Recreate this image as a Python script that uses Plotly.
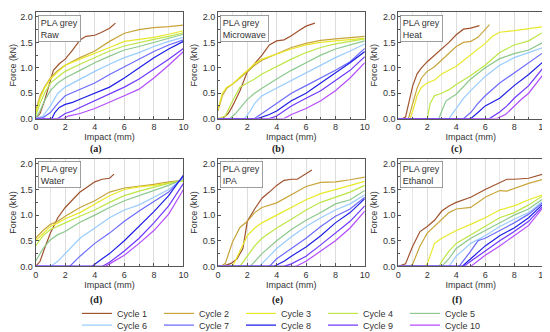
import plotly.graph_objects as go

cycle_names = [f"Cycle {i}" for i in range(1, 11)]
cycle_colors = ["#A0522D", "#C8A43A", "#E8E82A", "#BDE645", "#8CC88C",
                "#99CCFF", "#6B6BFF", "#1E1EE6", "#7038FF", "#B44DFF"]
panel_titles = ["Raw", "Microwave", "Heat", "Water", "IPA", "Ethanol"]
panel_labels = ["(a)", "(b)", "(c)", "(d)", "(e)", "(f)"]
x_ticks = [0, 2, 4, 6, 8, 10]
y_ticks = [0.0, 0.5, 1.0, 1.5, 2.0]

raw_x = [
    [0, 0.3, 0.6, 0.9, 1.2, 1.6, 2, 2.5, 3, 3.4, 4, 4.4, 5, 5.4],
    [0, 0.3, 0.6, 1, 1.5, 2, 3, 4, 5, 6, 7, 8, 9, 10],
    [0, 0.3, 0.6, 1, 1.5, 2, 3, 4, 5, 6, 7, 8, 9, 10],
    [0, 0.3, 0.6, 1, 1.5, 2, 3, 4, 5, 6, 7, 8, 9, 10],
    [0, 0.3, 0.6, 1, 1.5, 2, 3, 4, 5, 6, 7, 8, 9, 10],
    [0, 0.5, 1, 1.5, 2, 3, 4, 5, 6, 7, 8, 9, 10],
    [0, 0.5, 1, 1.5, 2, 3, 4, 5, 6, 7, 8, 9, 10],
    [0, 1.1, 1.3, 1.6, 2, 2.5, 3, 4, 5, 6, 7, 8, 9, 10],
    [0, 1.5, 2, 2.5, 3, 4, 5, 6, 7, 8, 9, 10],
    [0, 1.9, 2.2, 3, 4, 5, 6, 7, 8, 9, 10],
]
raw_y = [
    [0, 0.1, 0.35, 0.65, 0.95, 1.08, 1.17, 1.35, 1.55, 1.62, 1.64, 1.69, 1.78, 1.88],
    [0.15, 0.45, 0.62, 0.8, 0.95, 1.05, 1.2, 1.33, 1.52, 1.68, 1.75, 1.79, 1.81, 1.84],
    [0.1, 0.4, 0.6, 0.78, 0.92, 1.05, 1.17, 1.28, 1.4, 1.52, 1.56, 1.6, 1.66, 1.73],
    [0.05, 0.3, 0.5, 0.7, 0.82, 0.93, 1.07, 1.2, 1.33, 1.43, 1.5, 1.56, 1.62, 1.69],
    [0, 0.15, 0.35, 0.55, 0.7, 0.8, 0.95, 1.1, 1.23, 1.35, 1.42, 1.5, 1.58, 1.66],
    [0, 0.05, 0.25, 0.5, 0.62, 0.78, 0.93, 1.07, 1.2, 1.3, 1.42, 1.52, 1.6],
    [0, 0.02, 0.12, 0.3, 0.45, 0.58, 0.7, 0.87, 1.02, 1.17, 1.32, 1.45, 1.55],
    [0, 0, 0.12, 0.22, 0.28, 0.32, 0.38, 0.5, 0.62, 0.8, 1.0, 1.2, 1.37, 1.52],
    [0, 0, 0.1, 0.15, 0.22, 0.35, 0.48, 0.62, 0.78, 0.97, 1.17, 1.38],
    [0, 0, 0.05, 0.1, 0.2, 0.32, 0.45, 0.58, 0.8, 1.05, 1.32],
]

microwave_x = [
    [0, 0.3, 0.7, 1, 1.5, 2, 2.5, 3, 3.5, 4, 4.5, 5, 5.5, 6, 6.6],
    [0, 0.3, 0.6, 1, 1.5, 2, 2.5, 3, 4, 5, 6, 7, 8, 9, 10],
    [0, 0.3, 0.6, 1, 1.5, 2, 2.5, 3, 4, 5, 6, 7, 8, 9, 10],
    [0, 0.5, 1, 1.5, 2, 2.5, 3, 4, 5, 6, 7, 8, 9, 10],
    [0, 0.8, 1.2, 1.5, 2, 2.5, 3, 4, 5, 6, 7, 8, 9, 10],
    [0, 1.8, 2.2, 2.5, 3, 4, 5, 6, 7, 8, 9, 10],
    [0, 2.5, 3, 3.5, 4, 5, 6, 7, 8, 9, 10],
    [0, 2.7, 3.5, 4, 5, 6, 7, 8, 9, 10],
    [0, 3.5, 4, 5, 6, 7, 8, 9, 10],
    [0, 4.5, 5, 6, 7, 8, 9, 10],
]
microwave_y = [
    [0, 0, 0.1, 0.25, 0.55, 0.92, 1.08, 1.25, 1.45, 1.53, 1.55, 1.63, 1.73, 1.82, 1.88],
    [0.15, 0.45, 0.6, 0.68, 0.8, 0.92, 1.05, 1.15, 1.27, 1.4, 1.48, 1.54, 1.57, 1.59, 1.62],
    [0.18, 0.5, 0.62, 0.68, 0.82, 0.95, 1.08, 1.17, 1.27, 1.37, 1.45, 1.5, 1.53, 1.56, 1.58],
    [0, 0.05, 0.35, 0.62, 0.7, 0.78, 0.88, 1.03, 1.17, 1.3, 1.4, 1.47, 1.52, 1.57],
    [0, 0, 0.1, 0.2, 0.38, 0.5, 0.6, 0.78, 0.95, 1.1, 1.25, 1.37, 1.45, 1.53],
    [0, 0, 0.15, 0.3, 0.45, 0.6, 0.75, 0.9, 1.05, 1.2, 1.33, 1.47],
    [0, 0, 0.1, 0.2, 0.3, 0.5, 0.65, 0.8, 0.95, 1.12, 1.38],
    [0, 0, 0.08, 0.15, 0.35, 0.5, 0.7, 0.9, 1.1, 1.32],
    [0, 0, 0.05, 0.25, 0.4, 0.55, 0.75, 0.95, 1.22],
    [0, 0, 0.08, 0.2, 0.35, 0.55, 0.8, 1.1],
]

heat_x = [
    [0, 0.3, 0.5, 0.8, 1, 1.3, 1.6, 2, 2.5, 3, 3.5, 4, 4.5, 5, 5.6],
    [0, 0.7, 1, 1.3, 1.6, 2, 2.5, 3, 3.5, 4, 4.5, 5, 5.5, 6, 6.3],
    [0, 0.8, 1, 1.3, 1.6, 2, 2.5, 3, 4, 5, 6, 6.5, 7, 8, 9, 10],
    [0, 2, 2.2, 2.5, 3, 3.5, 4, 5, 6, 7, 8, 9, 10],
    [0, 2.8, 3, 3.3, 4, 5, 6, 7, 8, 9, 10],
    [0, 3.5, 4, 4.5, 5, 6, 7, 8, 9, 10],
    [0, 4.5, 5, 5.5, 6, 7, 8, 9, 10],
    [0, 5, 5.5, 6, 7, 8, 9, 10],
    [0, 6.3, 7, 7.5, 8, 9, 10],
    [0, 6.8, 7.4, 8, 8.5, 9, 10],
]
heat_y = [
    [0, 0, 0.03, 0.4, 0.65, 0.88, 1.0, 1.12, 1.25, 1.37, 1.5, 1.65, 1.76, 1.78, 1.83],
    [0, 0, 0.3, 0.6, 0.8, 0.93, 1.02, 1.15, 1.3, 1.42, 1.5, 1.52, 1.6, 1.75, 1.85],
    [0, 0, 0.15, 0.45, 0.62, 0.7, 0.76, 0.88, 1.03, 1.25, 1.48, 1.62, 1.7, 1.73, 1.77, 1.81],
    [0, 0, 0.3, 0.45, 0.5, 0.57, 0.67, 0.85, 1.05, 1.3, 1.45, 1.53, 1.7],
    [0, 0, 0.15, 0.35, 0.48, 0.78, 1.0, 1.18, 1.28, 1.35, 1.5],
    [0, 0, 0.2, 0.4, 0.55, 0.83, 1.05, 1.2, 1.3, 1.4],
    [0, 0, 0.12, 0.3, 0.45, 0.7, 0.9, 1.1, 1.3],
    [0, 0, 0.12, 0.25, 0.4, 0.65, 0.87, 1.12],
    [0, 0, 0.13, 0.25, 0.4, 0.65, 1.0],
    [0, 0, 0.08, 0.25, 0.38, 0.5, 0.87],
]

water_x = [
    [0, 0.3, 0.6, 1, 1.5, 2, 2.5, 3, 3.5, 4, 4.5, 5, 5.3],
    [0, 0.5, 1, 1.5, 2, 3, 4, 5, 6, 7, 8, 9, 10],
    [0, 0.5, 1, 1.5, 2, 3, 4, 5, 6, 7, 8, 9, 10],
    [0, 0.5, 1, 1.5, 2, 3, 4, 5, 6, 7, 8, 9, 10],
    [0, 0.5, 1, 1.5, 2, 3, 4, 5, 6, 7, 8, 9, 10],
    [0, 1, 1.5, 2, 2.5, 3, 4, 5, 6, 7, 8, 9, 10],
    [0, 2.3, 3, 4, 5, 6, 7, 8, 9, 10],
    [0, 3.8, 4.5, 5, 6, 7, 8, 9, 10],
    [0, 4.5, 5, 6, 7, 8, 9, 10],
    [0, 4.7, 5, 6, 7, 8, 9, 10],
]
water_y = [
    [0, 0.1, 0.35, 0.65, 0.95, 1.15, 1.3, 1.45, 1.55, 1.65, 1.7, 1.72, 1.8],
    [0.55, 0.7, 0.82, 0.88, 0.98, 1.15, 1.28, 1.45, 1.53, 1.56, 1.6, 1.65, 1.68],
    [0.5, 0.65, 0.78, 0.85, 0.93, 1.05, 1.22, 1.38, 1.5, 1.55, 1.58, 1.63, 1.67],
    [0.4, 0.6, 0.72, 0.78, 0.85, 0.98, 1.1, 1.25, 1.38, 1.47, 1.55, 1.62, 1.68],
    [0.1, 0.35, 0.52, 0.62, 0.68, 0.86, 1.0, 1.15, 1.28, 1.38, 1.48, 1.58, 1.7],
    [0, 0, 0.1, 0.25, 0.4, 0.55, 0.75, 0.95, 1.1, 1.2, 1.35, 1.5, 1.72],
    [0, 0, 0.2, 0.45, 0.65, 0.88, 1.08, 1.27, 1.45, 1.75],
    [0, 0, 0.15, 0.25, 0.5, 0.78, 1.07, 1.38, 1.78],
    [0, 0, 0.08, 0.3, 0.55, 0.85, 1.18, 1.62],
    [0, 0, 0.05, 0.22, 0.45, 0.7, 1.02, 1.5],
]

ipa_x = [
    [0, 0.3, 0.9, 1.3, 1.7, 2, 2.5, 3, 3.5, 4, 4.5, 5, 5.4, 6, 6.4],
    [0, 0.2, 0.5, 1, 1.5, 2, 2.5, 3, 4, 5, 6, 7, 8, 9, 10],
    [0, 1, 1.5, 2, 2.5, 3, 4, 5, 6, 7, 8, 9, 10],
    [0, 1.5, 2, 2.5, 3, 4, 5, 6, 7, 8, 9, 10],
    [0, 2.2, 3, 4, 5, 6, 7, 8, 9, 10],
    [0, 2.8, 3.5, 4, 5, 6, 7, 8, 9, 10],
    [0, 3.5, 4, 5, 6, 7, 8, 9, 10],
    [0, 3.8, 4.5, 5, 6, 7, 8, 9, 10],
    [0, 4.5, 5, 6, 7, 8, 9, 10],
    [0, 5.3, 6, 7, 8, 9, 10],
]
ipa_y = [
    [0, 0, 0.06, 0.15, 0.35, 0.88, 1.12, 1.33, 1.45, 1.58, 1.68, 1.7, 1.7, 1.8, 1.88],
    [0, 0, 0.06, 0.48, 0.76, 0.88, 1.05, 1.15, 1.24, 1.4, 1.56, 1.64, 1.65, 1.69, 1.74],
    [0, 0, 0.3, 0.6, 0.75, 0.85, 1.0, 1.15, 1.3, 1.42, 1.5, 1.58, 1.66],
    [0, 0, 0.2, 0.4, 0.55, 0.75, 0.92, 1.1, 1.25, 1.35, 1.45, 1.58],
    [0, 0, 0.25, 0.5, 0.72, 0.9, 1.05, 1.22, 1.3, 1.48],
    [0, 0, 0.2, 0.35, 0.58, 0.78, 0.95, 1.1, 1.22, 1.4],
    [0, 0, 0.15, 0.35, 0.55, 0.78, 0.98, 1.12, 1.35],
    [0, 0, 0.1, 0.2, 0.38, 0.6, 0.85, 1.05, 1.32],
    [0, 0, 0.05, 0.2, 0.42, 0.65, 0.88, 1.18],
    [0, 0, 0.1, 0.3, 0.5, 0.75, 1.08],
]

ethanol_x = [
    [0, 0.5, 1, 1.5, 2, 2.5, 3, 3.5, 4, 5, 6, 7, 7.5, 8, 9, 10],
    [0, 0.8, 1, 1.5, 2, 2.5, 3, 3.5, 4, 5, 6, 7, 7.5, 8, 9, 10],
    [0, 1.8, 2, 2.5, 3, 4, 5, 6, 7, 8, 9, 10],
    [0, 2.8, 3, 3.5, 4, 5, 6, 7, 8, 9, 10],
    [0, 3, 3.5, 4, 5, 6, 7, 8, 9, 10],
    [0, 3.5, 4, 5, 6, 7, 8, 9, 10],
    [0, 4.2, 5, 5.5, 6, 7, 8, 9, 10],
    [0, 4.4, 5, 6, 7, 8, 9, 10],
    [0, 4.5, 5, 6, 7, 8, 9, 10],
    [0, 5, 6, 7, 8, 9, 10],
]
ethanol_y = [
    [0, 0.05, 0.4, 0.68, 0.78, 0.9, 1.08, 1.18, 1.25, 1.35, 1.5, 1.63, 1.7, 1.7, 1.72, 1.8],
    [0, 0, 0.05, 0.4, 0.65, 0.78, 0.92, 1.05, 1.12, 1.15, 1.35, 1.48, 1.47, 1.52, 1.62, 1.7],
    [0, 0, 0.05, 0.45, 0.55, 0.7, 0.82, 0.95, 1.1, 1.18, 1.3, 1.4],
    [0, 0, 0.1, 0.3, 0.45, 0.62, 0.78, 0.95, 1.05, 1.2, 1.38],
    [0, 0, 0.15, 0.35, 0.55, 0.7, 0.85, 1.0, 1.12, 1.32],
    [0, 0, 0.2, 0.45, 0.6, 0.78, 0.92, 1.05, 1.28],
    [0, 0, 0.3, 0.5, 0.55, 0.7, 0.85, 1.02, 1.25],
    [0, 0, 0.15, 0.4, 0.6, 0.75, 0.95, 1.22],
    [0, 0, 0.1, 0.3, 0.5, 0.68, 0.88, 1.18],
    [0, 0, 0.22, 0.4, 0.6, 0.8, 1.15],
]

panels_x = [raw_x, microwave_x, heat_x, water_x, ipa_x, ethanol_x]
panels_y = [raw_y, microwave_y, heat_y, water_y, ipa_y, ethanol_y]

W, H = 550, 332
col_px = [(25, 175), (210, 359), (393, 540)]
row_px = [(4, 113), (154, 264)]
label_y_px = [144, 298]

FONT = "Liberation Sans, Arial, sans-serif"
TXT = "#333333"
fig = go.Figure()

legend_common = dict(orientation="h", x=0.5, xanchor="center", yanchor="middle",
                     font=dict(size=9, color=TXT), entrywidth=37, entrywidthmode="pixels",
                     itemwidth=30, tracegroupgap=0, bgcolor="rgba(0,0,0,0)",
                     borderwidth=0)
layout = dict(
    width=W, height=H, margin=dict(l=0, r=0, t=0, b=0),
    paper_bgcolor="white", plot_bgcolor="white",
    font=dict(family=FONT, size=9, color=TXT),
    showlegend=True,
    legend=dict(y=1 - 312 / H, **legend_common),
    legend2=dict(y=1 - 324 / H, **legend_common),
    annotations=[],
)

for p in range(6):
    r, c = divmod(p, 3)
    idx = p + 1
    xa = "xaxis" if idx == 1 else f"xaxis{idx}"
    ya = "yaxis" if idx == 1 else f"yaxis{idx}"
    xr = "x" if idx == 1 else f"x{idx}"
    yr = "y" if idx == 1 else f"y{idx}"
    x0, x1 = col_px[c]
    y0, y1 = row_px[r]
    layout[xa] = dict(
        domain=[x0 / W, x1 / W], anchor=yr, range=[0, 10],
        tickvals=x_ticks, ticks="inside", ticklen=3, tickcolor="#555555",
        showline=True, mirror=True, linecolor="#555555", linewidth=1,
        showgrid=True, gridcolor="#DDDDDD", gridwidth=0.6,
        minor=dict(dtick=1, showgrid=True, gridcolor="#E6E6E6", ticks="inside", ticklen=2,
                   tickcolor="#555555"),
        zeroline=False,
        title=dict(text="Impact (mm)", font=dict(size=9, color=TXT), standoff=1),
        tickfont=dict(size=9, color=TXT),
    )
    layout[ya] = dict(
        domain=[1 - y1 / H, 1 - y0 / H], anchor=xr, range=[0, 2.1],
        tickvals=y_ticks, tickformat=".1f", ticks="inside", ticklen=3, tickcolor="#555555",
        showline=True, mirror=True, linecolor="#555555", linewidth=1,
        showgrid=False, zeroline=False,
        minor=dict(dtick=0.25, ticks="inside", ticklen=2, tickcolor="#555555"),
        title=dict(text="Force (kN)", font=dict(size=9, color=TXT), standoff=3),
        tickfont=dict(size=9, color=TXT),
    )
    for k in range(10):
        fig.add_trace(go.Scatter(
            x=panels_x[p][k], y=panels_y[p][k], mode="lines",
            line=dict(color=cycle_colors[k], width=1.2),
            name=cycle_names[k], legendgroup=cycle_names[k],
            legend="legend" if k < 5 else "legend2",
            showlegend=(p == 0), xaxis=xr, yaxis=yr,
        ))
    layout["annotations"].append(dict(
        text="PLA grey<br>" + panel_titles[p], xref=f"{xr} domain", yref=f"{yr} domain",
        x=0.015, y=0.975, xanchor="left", yanchor="top", showarrow=False, align="left",
        bordercolor="#888888", borderwidth=0.8, borderpad=2, bgcolor="white",
        font=dict(size=9, color=TXT),
    ))
    layout["annotations"].append(dict(
        text="<b>" + panel_labels[p] + "</b>", xref="paper", yref="paper",
        x=((x0 + x1) / 2 - 14) / W, y=1 - label_y_px[r] / H, xanchor="center", yanchor="middle",
        showarrow=False, font=dict(family="Liberation Serif, Times New Roman, serif", size=10,
                                   color="#222222"),
    ))

fig.update_layout(**layout)
fig.write_html("out.html")
